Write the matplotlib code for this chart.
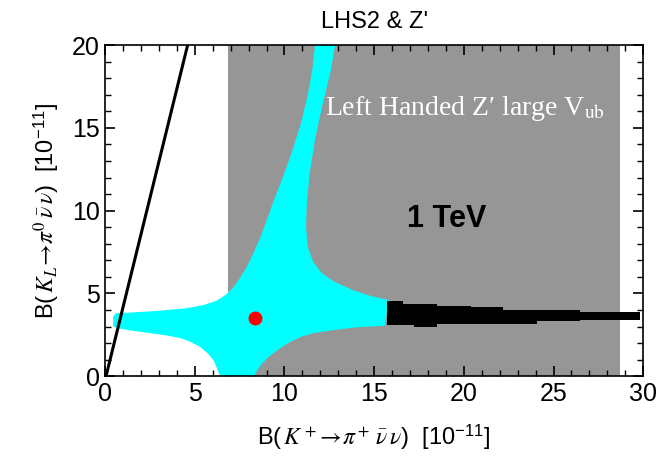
import numpy as np
import matplotlib
matplotlib.use('Agg')
import matplotlib.pyplot as plt

plt.rcParams['font.family'] = ['Liberation Sans', 'DejaVu Sans']
plt.rcParams['mathtext.fontset'] = 'stix'

# excluded band (grey) in B(K+) [1e-11]
grey_lo, grey_hi = 6.85, 28.7

# allowed region for 1 TeV (cyan), outline
cyan_x = [0.6, 1.5, 3.0, 4.5, 5.5, 6.2, 6.7, 7.1, 7.5, 7.9, 8.3, 8.7, 9.0, 9.4, 9.9, 10.4, 10.9, 11.3, 11.55, 11.7,
          12.83, 12.55, 12.1, 11.7, 11.4, 11.25, 11.2, 11.3, 11.6, 12.1, 12.8, 13.8, 14.8, 15.8,
          15.6, 14.0, 12.7, 11.6, 10.9, 10.2, 9.6, 9.1, 8.7, 8.45, 8.3,
          6.4, 6.25, 6.05, 5.7, 5.3, 4.8, 4.3, 3.5, 2.5, 1.5, 0.8, 0.45, 0.45]
cyan_y = [3.8, 3.85, 3.95, 4.1, 4.3, 4.55, 4.9, 5.3, 5.9, 6.6, 7.5, 8.5, 9.4, 10.6, 12.0, 13.5, 15.2, 17.0, 18.5, 20.0,
          20.0, 18.3, 16.3, 14.3, 12.2, 10.5, 9.0, 7.8, 6.9, 6.2, 5.7, 5.2, 4.85, 4.6,
          3.05, 2.95, 2.78, 2.6, 2.37, 2.0, 1.57, 1.15, 0.7, 0.3, 0.0,
          0.0, 0.45, 0.95, 1.4, 1.77, 2.05, 2.27, 2.45, 2.6, 2.75, 2.88, 3.0, 3.6]

# black band continuing to large B(K+)
black_x = [15.7, 16.6, 17.2, 18.5, 20.4, 22.2, 24.1, 26.5, 29.8]
black_top = [4.55, 4.35, 4.35, 4.23, 4.15, 4.0, 4.0, 3.85, 3.85]
black_bot = [3.08, 3.08, 2.98, 3.14, 3.14, 3.14, 3.34, 3.38, 3.38]

# Grossman-Nir bound
gn_x = [0.05, 4.6]
gn_y = [0.0, 20.0]

# SM point
sm_x, sm_y = 8.35, 3.5

fig = plt.figure(figsize=(6.57, 4.65), dpi=100)
ax = fig.add_axes([0.160, 0.191, 0.819, 0.712])

ax.axvspan(grey_lo, grey_hi, color='#969696', lw=0, zorder=1)
ax.fill(cyan_x, cyan_y, color='#00ffff', lw=0, zorder=2)
ax.fill_between(black_x, black_bot, black_top, step='post', color='black', lw=0, zorder=3)
ax.plot(gn_x, gn_y, color='black', lw=2.2, zorder=4)
ax.plot(sm_x, sm_y, 'o', color='red', ms=9, zorder=5)

ax.set_xlim(0, 30)
ax.set_ylim(0, 20)
ax.set_xticks(np.arange(0, 31, 5))
ax.set_yticks(np.arange(0, 21, 5))
ax.set_xticks(np.arange(0, 31, 1), minor=True)
ax.set_yticks(np.arange(0, 21, 1), minor=True)
ax.tick_params(which='both', direction='in', top=True, right=True, labelsize=18, pad=4)
ax.tick_params(which='major', length=7, width=1.2)
ax.tick_params(which='minor', length=4, width=1)
for s in ax.spines.values():
    s.set_linewidth(1.2)

ax.set_xlabel(r'B($\,K^+\!\rightarrow\!\pi^+\,\bar{\nu}\,\nu$)  [10$^{\mathregular{-11}}$]', fontsize=17, labelpad=12)
ax.set_ylabel(r'B($\,K_L\!\rightarrow\!\pi^0\,\bar{\nu}\,\nu$)  [10$^{\mathregular{-11}}$]', fontsize=17, labelpad=8)
ax.set_title("LHS2 & Z'", fontsize=17, pad=12)

ax.text(12.27, 15.77, 'Left Handed Z\u2032 large V$_{\\mathrm{ub}}$', color='white',
        fontsize=20, family=['Liberation Serif', 'DejaVu Serif'], va='baseline', ha='left', zorder=6)
ax.text(16.85, 9.5, '1 TeV', fontsize=22, fontweight='bold', va='center', ha='left', zorder=6)

fig.savefig('out.png', dpi=100)
